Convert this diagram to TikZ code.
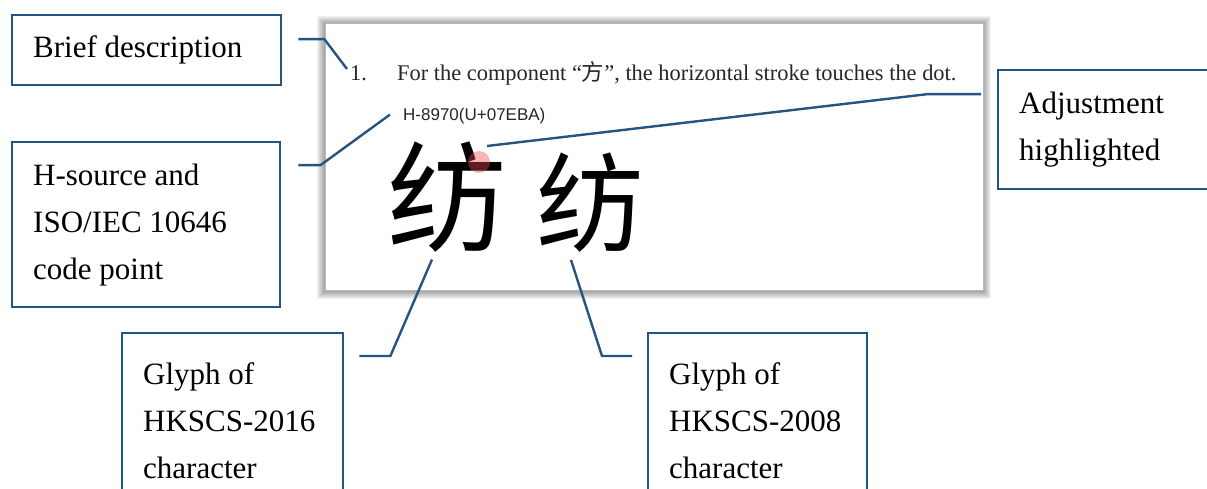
\documentclass[tikz,border=0pt]{standalone}
\usepackage{fontspec}
\setmainfont{Liberation Serif}
\setsansfont{Liberation Sans}
\newfontfamily\cjk{Noto Sans CJK SC}
\definecolor{callout}{RGB}{38,84,128}
\definecolor{hilite}{RGB}{235,70,80}
\tikzset{
  callbox/.style={draw=callout, line width=2.4pt, anchor=north west, align=flush left,
    inner xsep=21pt, font=\fontsize{31}{47}\selectfont},
  callline/.style={draw=callout, line width=2.4pt},
  paneltext/.style={anchor=base west, inner sep=0pt, text=black!85, font=\fontsize{22.4}{22.4}\selectfont},
}

\begin{document}
\begin{tikzpicture}[x=1pt,y=-1pt]
    \useasboundingbox (0,0) rectangle (1207,489);
    \foreach \s in {1,...,8}
      \fill [black, fill opacity=0.05] (325-\s,23-\s+1) rectangle (983+\s,290+\s+1);
    \draw [gray!55, fill=white] (325,23) rectangle (983,290);
    \node [paneltext] (num) at (350,81) {1.};
    \node [paneltext] (desc) at (397,81)
      {For the component “{\cjk 方}”, the horizontal stroke touches the dot.};
    \node [paneltext, font=\sffamily\fontsize{17}{17}\selectfont] (code) at (403,121) {H-8970(U+07EBA)};
    \node [inner sep=0pt, font=\cjk\fontsize{120}{120}\selectfont] (newglyph) at (447,197) {纺};
    \node [inner sep=0pt, font=\cjk\fontsize{108}{108}\selectfont] (oldglyph) at (590,203) {纺};
    \node [circle, fill=hilite, fill opacity=0.4, minimum size=22pt, inner sep=0pt] (dot) at (479,162) {};

    \node [callbox, text width=227pt, minimum height=70pt] (brief) at (11,14) {Brief description};
    \node [callbox, text width=226pt, minimum height=165pt] (hsource) at (11,141)
      {H-source and\\ISO/IEC 10646\\code point};
    \node [callbox, text width=191pt, minimum height=119pt] (adjust) at (997,69)
      {Adjustment\\highlighted};
    \node [callbox, text width=179pt, minimum height=175pt] (glyphnew) at (121,332)
      {Glyph of\\HKSCS-2016\\character};
    \node [callbox, text width=177pt, minimum height=175pt] (glyphold) at (647,332)
      {Glyph of\\HKSCS-2008\\character};

    \draw [callline] ([shift={(16,-11)}]brief.east) -- ++(26,0) -- ([shift={(-3,3)}]num.north west);
    \draw [callline] ([shift={(17,-59.5)}]hsource.east) -- ++(22,0) -- ([shift={(-13,-2)}]code.west);
    \draw [callline] ([shift={(-16,-35.5)}]adjust.west) -- ++(-54,0) -- ([shift={(8,-16)}]dot.center);
    \draw [callline] ([shift={(15,24)}]glyphnew.north east) -- ++(31,0) -- ([shift={(-15,7)}]newglyph.south);
    \draw [callline] ([shift={(-15,24)}]glyphold.north west) -- ++(-30,0) -- ([shift={(-19,7)}]oldglyph.south);
\end{tikzpicture}
\end{document}
